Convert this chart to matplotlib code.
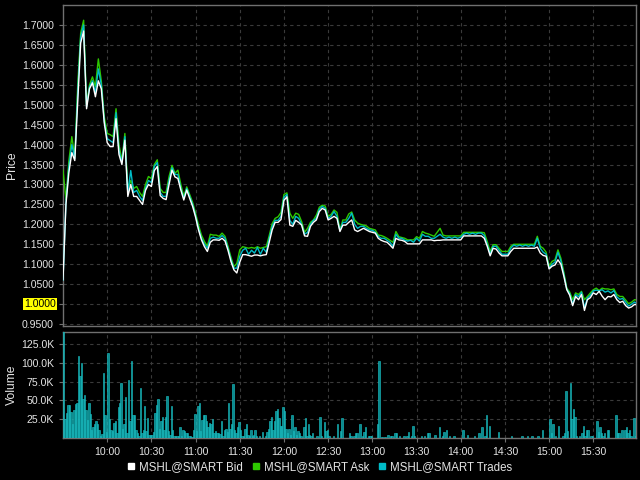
import numpy as np
import matplotlib.pyplot as plt
import matplotlib.transforms as mtransforms
from matplotlib.lines import Line2D
from matplotlib.ticker import FuncFormatter

plt.rcParams['font.family'] = ['Liberation Sans', 'DejaVu Sans']

# price samples every 2 minutes after 9:30 (0 .. 390)
price_minutes = np.arange(0, 391, 2)

ask = [
    1.336, 1.262, 1.360, 1.420, 1.370, 1.550, 1.680, 1.712, 1.500, 1.550, 1.570, 1.545, 1.615, 1.560, 1.470,
    1.428, 1.425, 1.420, 1.490, 1.400, 1.360, 1.428, 1.290, 1.310, 1.290, 1.295, 1.280, 1.270, 1.300, 1.320,
    1.315, 1.350, 1.362, 1.290, 1.280, 1.280, 1.320, 1.348, 1.328, 1.336, 1.300, 1.270, 1.294, 1.275, 1.255,
    1.228, 1.198, 1.173, 1.157, 1.145, 1.175, 1.173, 1.173, 1.170, 1.178, 1.170, 1.145, 1.118, 1.094, 1.102,
    1.136, 1.144, 1.142, 1.140, 1.142, 1.140, 1.144, 1.140, 1.142, 1.144, 1.172, 1.202, 1.215, 1.219, 1.230,
    1.275, 1.279, 1.228, 1.215, 1.228, 1.225, 1.207, 1.180, 1.190, 1.205, 1.211, 1.223, 1.243, 1.248, 1.246,
    1.220, 1.225, 1.236, 1.230, 1.186, 1.211, 1.211, 1.226, 1.231, 1.211, 1.203, 1.200, 1.198, 1.196, 1.190,
    1.188, 1.186, 1.173, 1.172, 1.169, 1.165, 1.160, 1.155, 1.182, 1.169, 1.167, 1.165, 1.161, 1.161, 1.161,
    1.169, 1.165, 1.182, 1.178, 1.176, 1.173, 1.170, 1.180, 1.190, 1.173, 1.171, 1.171, 1.171, 1.171, 1.171,
    1.171, 1.180, 1.180, 1.180, 1.180, 1.180, 1.180, 1.180, 1.179, 1.157, 1.132, 1.149, 1.149, 1.140, 1.132,
    1.132, 1.132, 1.145, 1.150, 1.150, 1.150, 1.150, 1.150, 1.150, 1.150, 1.150, 1.170, 1.145, 1.140, 1.130,
    1.095, 1.107, 1.111, 1.136, 1.115, 1.080, 1.040, 1.030, 1.011, 1.028, 1.024, 1.032, 1.011, 1.019, 1.028,
    1.036, 1.040, 1.034, 1.040, 1.038, 1.038, 1.036, 1.038, 1.024, 1.019, 1.019, 1.010, 1.001, 1.005, 1.011,
    1.010,
]

bid = [
    1.061, 1.250, 1.330, 1.380, 1.360, 1.510, 1.655, 1.685, 1.490, 1.540, 1.555, 1.520, 1.560, 1.540, 1.455,
    1.405, 1.395, 1.395, 1.465, 1.375, 1.350, 1.411, 1.270, 1.300, 1.270, 1.270, 1.260, 1.250, 1.285, 1.300,
    1.295, 1.335, 1.345, 1.272, 1.265, 1.262, 1.300, 1.336, 1.319, 1.315, 1.286, 1.261, 1.286, 1.265, 1.245,
    1.218, 1.186, 1.161, 1.144, 1.132, 1.155, 1.161, 1.161, 1.160, 1.165, 1.158, 1.135, 1.107, 1.086, 1.078,
    1.105, 1.124, 1.124, 1.122, 1.120, 1.123, 1.123, 1.121, 1.123, 1.124, 1.155, 1.186, 1.205, 1.205, 1.212,
    1.260, 1.269, 1.198, 1.195, 1.210, 1.205, 1.198, 1.171, 1.170, 1.195, 1.205, 1.211, 1.232, 1.240, 1.236,
    1.211, 1.215, 1.220, 1.215, 1.182, 1.198, 1.198, 1.205, 1.211, 1.186, 1.182, 1.186, 1.190, 1.186, 1.182,
    1.180, 1.178, 1.165, 1.160, 1.157, 1.155, 1.148, 1.140, 1.165, 1.161, 1.160, 1.157, 1.151, 1.151, 1.151,
    1.151, 1.151, 1.161, 1.161, 1.161, 1.161, 1.159, 1.160, 1.160, 1.161, 1.161, 1.161, 1.161, 1.161, 1.161,
    1.161, 1.171, 1.171, 1.171, 1.171, 1.171, 1.171, 1.171, 1.165, 1.145, 1.121, 1.140, 1.138, 1.128, 1.121,
    1.121, 1.121, 1.132, 1.140, 1.140, 1.140, 1.140, 1.140, 1.140, 1.140, 1.140, 1.143, 1.128, 1.122, 1.120,
    1.088, 1.095, 1.098, 1.111, 1.100, 1.070, 1.036, 1.022, 0.996, 1.019, 1.011, 1.024, 0.984, 1.011, 1.016,
    1.028, 1.024, 1.032, 1.020, 1.011, 1.019, 1.018, 1.024, 1.011, 1.004, 1.007, 0.996, 0.990, 0.993, 0.999,
    0.998,
]

trades = [
    1.060, 1.255, 1.345, 1.400, 1.365, 1.530, 1.670, 1.700, 1.495, 1.545, 1.560, 1.530, 1.590, 1.550, 1.460,
    1.415, 1.410, 1.405, 1.480, 1.385, 1.355, 1.420, 1.280, 1.335, 1.280, 1.285, 1.270, 1.260, 1.290, 1.310,
    1.305, 1.345, 1.355, 1.280, 1.270, 1.270, 1.310, 1.342, 1.325, 1.325, 1.290, 1.265, 1.290, 1.270, 1.250,
    1.222, 1.190, 1.165, 1.150, 1.140, 1.165, 1.168, 1.165, 1.165, 1.172, 1.165, 1.140, 1.112, 1.090, 1.090,
    1.120, 1.135, 1.140, 1.125, 1.135, 1.128, 1.142, 1.125, 1.140, 1.130, 1.165, 1.195, 1.210, 1.210, 1.220,
    1.268, 1.275, 1.210, 1.200, 1.220, 1.215, 1.200, 1.175, 1.180, 1.200, 1.210, 1.215, 1.238, 1.245, 1.240,
    1.215, 1.220, 1.232, 1.220, 1.184, 1.205, 1.205, 1.215, 1.228, 1.200, 1.190, 1.195, 1.195, 1.190, 1.186,
    1.185, 1.180, 1.170, 1.165, 1.165, 1.160, 1.155, 1.145, 1.175, 1.165, 1.165, 1.160, 1.158, 1.160, 1.155,
    1.165, 1.158, 1.175, 1.170, 1.170, 1.165, 1.165, 1.170, 1.175, 1.168, 1.165, 1.168, 1.165, 1.168, 1.165,
    1.168, 1.175, 1.178, 1.175, 1.178, 1.175, 1.178, 1.178, 1.172, 1.150, 1.125, 1.145, 1.145, 1.135, 1.125,
    1.125, 1.125, 1.140, 1.148, 1.145, 1.148, 1.145, 1.148, 1.145, 1.148, 1.145, 1.165, 1.140, 1.130, 1.125,
    1.090, 1.100, 1.105, 1.130, 1.108, 1.075, 1.038, 1.026, 1.000, 1.024, 1.018, 1.030, 0.990, 1.015, 1.022,
    1.033, 1.035, 1.033, 1.036, 1.030, 1.033, 1.028, 1.034, 1.018, 1.012, 1.014, 1.004, 0.995, 1.000, 1.005,
    1.000,
]

# volume per minute, in thousands (one row = 30 minutes)
volume_k = [
    400, 25, 33, 44, 44, 35, 18, 37, 45, 47, 109, 83, 100, 52, 57, 37, 24, 46, 32, 11, 15, 18, 22, 19, 11, 2, 5, 87, 31, 8,
    113, 25, 10, 9, 20, 23, 7, 41, 47, 73, 12, 18, 54, 7, 77, 22, 103, 30, 30, 11, 7, 3, 66, 7, 11, 43, 9, 26, 4, 4,
    4, 8, 33, 44, 52, 12, 22, 28, 10, 28, 56, 9, 4, 42, 11, 3, 3, 3, 2, 15, 3, 10, 9, 7, 6, 3, 3, 1, 11, 32,
    9, 43, 47, 9, 24, 31, 31, 23, 15, 20, 18, 25, 6, 9, 6, 6, 5, 22, 3, 11, 12, 8, 46, 12, 19, 72, 11, 7, 15, 21,
    11, 3, 2, 12, 19, 4, 3, 11, 3, 4, 11, 3, 0, 3, 0, 8, 0, 3, 8, 12, 23, 28, 11, 23, 36, 39, 26, 16, 16, 41,
    36, 12, 6, 12, 4, 31, 9, 15, 4, 9, 6, 3, 0, 15, 27, 3, 19, 4, 3, 6, 0, 0, 3, 0, 28, 2, 0, 21, 9, 10,
    3, 0, 0, 3, 0, 0, 19, 0, 9, 27, 0, 0, 0, 0, 7, 2, 0, 3, 6, 6, 0, 19, 0, 3, 8, 15, 0, 3, 3, 3,
    0, 0, 0, 18, 103, 0, 1, 0, 1, 0, 4, 0, 2, 3, 0, 7, 7, 0, 3, 0, 0, 3, 0, 3, 8, 0, 3, 16, 3, 0,
    0, 0, 0, 2, 0, 3, 0, 6, 6, 0, 0, 0, 4, 0, 0, 15, 0, 3, 8, 0, 10, 0, 2, 0, 0, 2, 0, 0, 0, 0,
    0, 11, 0, 0, 4, 0, 0, 0, 0, 2, 0, 0, 6, 0, 15, 0, 2, 30, 0, 16, 0, 0, 0, 0, 0, 8, 0, 0, 0, 0,
    0, 0, 0, 0, 2, 0, 0, 0, 0, 0, 0, 3, 0, 0, 0, 2, 0, 0, 2, 0, 0, 0, 2, 0, 0, 11, 0, 0, 0, 0,
    25, 7, 18, 0, 3, 0, 16, 0, 0, 3, 6, 63, 9, 0, 73, 25, 38, 28, 3, 0, 3, 0, 6, 16, 3, 10, 10, 0, 2, 2,
    0, 0, 23, 8, 15, 6, 3, 6, 0, 10, 10, 0, 0, 0, 0, 30, 6, 7, 0, 10, 0, 10, 15, 6, 10, 3, 0, 27, 3, 0,
]
volume_minutes = np.arange(len(volume_k))

price_ticks = [0.95, 1.00, 1.05, 1.10, 1.15, 1.20, 1.25, 1.30, 1.35, 1.40, 1.45, 1.50, 1.55, 1.60, 1.65, 1.70]
volume_ticks = [25, 50, 75, 100, 125]
time_ticks = [30, 60, 90, 120, 150, 180, 210, 240, 270, 300, 330, 360]
series_labels = ['MSHL@SMART Bid', 'MSHL@SMART Ask', 'MSHL@SMART Trades']

BID_C = '#ffffff'
ASK_C = '#2ec800'
TRD_C = '#00bcc8'
TXT_C = '#e4e4e4'
GRID_C = '#3a3a3a'
SPINE_C = '#707070'
LABEL_SIZE = 7.6

last_price = trades[-1]


def hhmm(m, pos=None):
    t = int(round(570 + m))
    return f'{t // 60}:{t % 60:02d}'


def price_fmt(v, pos=None):
    # the last-trade marker takes the place of its tick label
    if abs(v - last_price) < 1e-9:
        return ''
    return f'{v:.4f}'


def style(ax):
    ax.set_facecolor('black')
    for s in ax.spines.values():
        s.set_color(SPINE_C)
        s.set_linewidth(1.0)
    ax.grid(True, color=GRID_C, linestyle=(0, (3, 3)), linewidth=0.8)
    ax.set_axisbelow(True)
    ax.tick_params(colors=SPINE_C, labelcolor=TXT_C, labelsize=LABEL_SIZE, length=3, width=0.8)


fig = plt.figure(figsize=(6.4, 4.8), dpi=100, facecolor='black')
ax_p = fig.add_axes([63 / 640, 1 - 326 / 480, 573 / 640, 321 / 480])
ax_v = fig.add_axes([63 / 640, 1 - 438 / 480, 573 / 640, 106 / 480], sharex=ax_p)
style(ax_p)
style(ax_v)

# price panel
ax_p.plot(price_minutes, ask, color=ASK_C, lw=1.0, zorder=3)
ax_p.plot(price_minutes, trades, color=TRD_C, lw=1.0, zorder=4)
ax_p.plot(price_minutes, bid, color=BID_C, lw=1.0, zorder=5)
ax_p.set_ylim(0.945, 1.7502)
ax_p.set_yticks(price_ticks)
ax_p.yaxis.set_major_formatter(FuncFormatter(price_fmt))
ax_p.tick_params(axis='x', length=0, labelbottom=False)

# last trade marker on the price axis
trans = mtransforms.blended_transform_factory(ax_p.transAxes, ax_p.transData)
ax_p.text(-0.0122, last_price, f'{last_price:.4f}', transform=trans, ha='right', va='center',
          fontsize=LABEL_SIZE, color='black', zorder=10,
          bbox=dict(boxstyle='square,pad=0.12', fc='#ffff00', ec='none'))

# volume panel
ax_v.bar(volume_minutes, volume_k, width=1.0, align='edge', color='#0a8a8e',
         edgecolor='#1cc8cc', linewidth=0.4, zorder=3)
ax_v.set_ylim(0, 141)
ax_v.set_yticks(volume_ticks)
ax_v.yaxis.set_major_formatter(FuncFormatter(lambda v, p: f'{v:.1f}K'))
ax_v.set_xlim(0, 389)
ax_v.set_xticks(time_ticks)
ax_v.xaxis.set_major_formatter(FuncFormatter(hhmm))

fig.text(12 / 640, 1 - 165 / 480, 'Price', rotation=90, ha='center', va='center', color=TXT_C, fontsize=8.7)
fig.text(12 / 640, 1 - 385 / 480, 'Volume', rotation=90, ha='center', va='center', color=TXT_C, fontsize=8.7)

handles = [Line2D([], [], marker='s', linestyle='none', color=c, markersize=4.5)
           for c in (BID_C, ASK_C, TRD_C)]
fig.legend(handles, series_labels, loc='center', bbox_to_anchor=(0.5, 1 - 467 / 480), ncol=3,
           frameon=False, fontsize=8.3, labelcolor=TXT_C, handlelength=0.6, handletextpad=0.4,
           columnspacing=0.8)

fig.savefig('out.png', dpi=100, facecolor='black')
